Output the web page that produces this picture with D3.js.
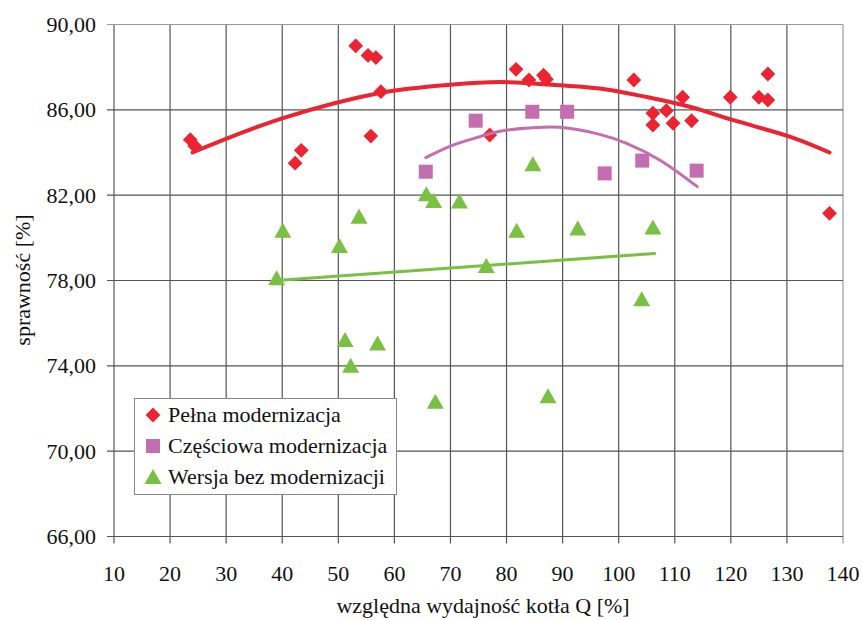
<!DOCTYPE html>
<html>
<head>
<meta charset="utf-8">
<script src="https://cdn.jsdelivr.net/npm/d3@7"></script>
<style>
  body { margin: 0; background: #fff; }
  svg text { font-family: "Liberation Serif", "DejaVu Serif", serif; fill: #111; }
</style>
</head>
<body>
<div id="chart"></div>
<script>
"use strict";

// Pełna modernizacja
const fullX = [23.6, 24.4, 42.3, 43.4, 53.1, 55.3, 56.7, 57.6, 55.8, 77.0, 81.7, 84.0, 86.6, 87.1,
  102.7, 106.1, 108.5, 106.1, 109.7, 111.4, 113.0, 119.9, 125.0, 126.6, 126.6, 137.6];
const fullY = [84.6, 84.3, 83.5, 84.1, 89.0, 88.55, 88.45, 86.85, 84.77, 84.82, 87.9, 87.4, 87.62, 87.43,
  87.4, 85.84, 85.96, 85.29, 85.37, 86.59, 85.49, 86.59, 86.59, 86.46, 87.68, 81.15];
// Częściowa modernizacja
const partX = [65.6, 74.5, 84.6, 90.8, 97.5, 104.2, 113.9];
const partY = [83.1, 85.49, 85.91, 85.91, 83.02, 83.62, 83.15];
// Wersja bez modernizacji
const noneX = [39.0, 40.1, 50.2, 51.2, 52.2, 53.7, 57.0, 65.7, 67.0, 67.3, 71.6, 76.4, 81.8, 84.7,
  87.4, 92.7, 104.1, 106.1];
const noneY = [78.1, 80.33, 79.62, 75.21, 74.0, 80.99, 75.05, 82.04, 81.73, 72.32, 81.7, 78.68, 80.33, 83.45,
  72.58, 80.44, 77.12, 80.49];

// trend lines
const fullTrendX = [24, 40, 57.6, 70, 79, 89.5, 96.6, 105, 113, 120, 131, 137.6];
const fullTrendY = [84.0, 85.6, 86.8, 87.18, 87.3, 87.15, 87.0, 86.6, 86.12, 85.55, 84.7, 84.0];
const partTrendX = [65.6, 70, 75.2, 78.8, 84, 89.5, 96.6, 101.4, 107.3, 114];
const partTrendY = [83.76, 84.3, 84.74, 85.0, 85.15, 85.18, 84.85, 84.43, 83.65, 82.4];
const noneTrendX = [39, 106.4];
const noneTrendY = [78.0, 79.27];

const xTicks = [10, 20, 30, 40, 50, 60, 70, 80, 90, 100, 110, 120, 130, 140];
const yTicks = [66, 70, 74, 78, 82, 86, 90];
const seriesNames = ["Pełna modernizacja", "Częściowa modernizacja", "Wersja bez modernizacji"];
const seriesColors = ["#ec2330", "#c46db0", "#79c043"];

const W = 862, H = 620;
const x = d3.scaleLinear().domain([10, 140]).range([114, 843]);
const y = d3.scaleLinear().domain([66, 90]).range([536.5, 24.5]);

const svg = d3.select("#chart").append("svg").attr("width", W).attr("height", H);

// grid
const grid = svg.append("g");
grid.selectAll("line.v").data(xTicks).enter().append("line")
  .attr("x1", d => x(d)).attr("x2", d => x(d)).attr("y1", y(90)).attr("y2", y(66) + 7)
  .attr("stroke", d => d == 140 ? "#999" : "#555").attr("stroke-width", 1.2);
grid.selectAll("line.h").data(yTicks).enter().append("line")
  .attr("x1", x(10) - 7).attr("x2", x(140)).attr("y1", d => y(d)).attr("y2", d => y(d))
  .attr("stroke", d => d == 90 ? "#999" : "#555").attr("stroke-width", 1.2);

// axes labels
svg.append("g").selectAll("text").data(yTicks).enter().append("text")
  .attr("x", 96).attr("y", d => y(d) + 7.5).attr("text-anchor", "end")
  .style("font-size", "22px").text(d => d.toFixed(2).replace(".", ","));
svg.append("g").selectAll("text").data(xTicks).enter().append("text")
  .attr("x", d => x(d)).attr("y", 581).attr("text-anchor", "middle")
  .style("font-size", "22px").text(d => d);

svg.append("text").attr("x", 483).attr("y", 613).attr("text-anchor", "middle")
  .style("font-size", "22px").text("względna wydajność kotła Q [%]");
svg.append("text").attr("transform", "translate(30,280) rotate(-90)").attr("text-anchor", "middle")
  .style("font-size", "22px").text("sprawność [%]");

// markers
function marker(sel, kind, color) {
  if (kind == 0) sel.append("path").attr("d", d3.symbol(d3.symbolSquare, 110)()).attr("transform", "rotate(45)").attr("fill", color);
  else if (kind == 1) sel.append("rect").attr("x", -7).attr("y", -7).attr("width", 14).attr("height", 14).attr("fill", color);
  else sel.append("path").attr("d", "M0,-8 L8.5,7 L-8.5,7 Z").attr("fill", color);
}

const line = d3.line().x(d => x(d[0])).y(d => y(d[1])).curve(d3.curveCatmullRom);
const trends = [[fullTrendX, fullTrendY, 4], [partTrendX, partTrendY, 3], [noneTrendX, noneTrendY, 3]];
const pts = [[fullX, fullY], [partX, partY], [noneX, noneY]];

for (let s = 0; s < 3; s++) {
  const g = svg.append("g");
  g.selectAll("g").data(d3.range(pts[s][0].length)).enter().append("g")
    .attr("transform", i => "translate(" + x(pts[s][0][i]) + "," + y(pts[s][1][i]) + ")")
    .each(function() { marker(d3.select(this), s, seriesColors[s]); });
  const t = trends[s];
  svg.append("path").datum(t[0].map((v, i) => [v, t[1][i]])).attr("d", line)
    .attr("fill", "none").attr("stroke", seriesColors[s]).attr("stroke-width", t[2]).attr("stroke-linecap", "round");
}

// legend
const legend = svg.append("g");
legend.append("rect").attr("x", 134.5).attr("y", 398.5).attr("width", 262).attr("height", 96)
  .attr("fill", "#fff").attr("stroke", "#888").attr("stroke-width", 1);
seriesNames.forEach(function(name, i) {
  const ly = 415 + i * 31;
  const g = legend.append("g").attr("transform", "translate(153," + ly + ")");
  marker(g, i, seriesColors[i]);
  legend.append("text").attr("x", 168).attr("y", ly + 7).style("font-size", "22px").text(name);
});
</script>
</body>
</html>
